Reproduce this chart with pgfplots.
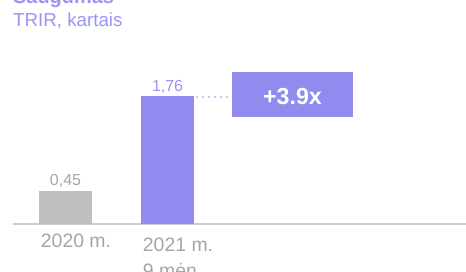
\documentclass[border=0pt]{standalone}
\usepackage{fontspec}
\setmainfont{Liberation Sans}
\usepackage{pgfplots}
\pgfplotsset{compat=1.18}
\definecolor{bpurple}{HTML}{918BF0}
\definecolor{tpurple}{HTML}{9A95F2}
\definecolor{bgray}{HTML}{BEBFC1}
\definecolor{tgray}{HTML}{A5A5A5}
\definecolor{lgray}{HTML}{CCCCCC}
\begin{document}
\begin{tikzpicture}
\useasboundingbox (0bp,0bp) rectangle (466bp,272bp);
\clip (0bp,0bp) rectangle (466bp,272bp);
\node[anchor=base west, inner sep=0pt, font=\fontsize{20}{24}\selectfont\bfseries, text=tpurple] at (13bp,268bp) {Saugumas};
\node[anchor=base west, inner sep=0pt, font=\fontsize{18.8}{22}\selectfont, text=tpurple] at (13bp,245.3bp) {TRIR, kartais};
\begin{axis}[
  at={(13bp,48bp)}, anchor=south west,
  scale only axis, width=453bp, height=217.5bp,
  xmin=-0.5147, xmax=3.926, ymin=0, ymax=3,
  axis x line*=bottom, axis y line=none,
  x axis line style={draw=lgray, line width=1.5bp, -},
  xtick={0,1}, major tick length=0pt,
  xticklabels={{2020 m.}, {\rule{0pt}{17.4bp}2021 m.\\9 mėn.}},
  xticklabel style={anchor=north west, align=left, inner sep=0pt, xshift=-24.8bp, yshift=-10bp, font=\fontsize{19.5}{25.5}\selectfont, text=tgray},
  ytick=\empty,
  ybar, bar width=53bp, bar shift=0pt,
  clip=false,
  /pgf/number format/assume math mode=true,
  /pgf/number format/use comma, /pgf/number format/fixed, /pgf/number format/precision=2, /pgf/number format/fixed zerofill,
]
\addplot[fill=bgray, draw=none, nodes near coords,
  every node near coord/.append style={anchor=base, yshift=5.5bp, font=\fontsize{16}{19}\selectfont, text=tgray}]
  coordinates {(0,0.45)};
\addplot[fill=bpurple, draw=none, nodes near coords,
  every node near coord/.append style={anchor=base, yshift=5bp, font=\fontsize{16}{19}\selectfont, text=tpurple}]
  coordinates {(1,1.76)};
\draw[bpurple, line width=1.6bp, line cap=round, dash pattern=on 0.01bp off 6bp] (axis cs:1.2892,1.748) -- (axis cs:1.6128,1.748);
\fill[bpurple] (axis cs:1.6324,1.4717) rectangle (axis cs:2.8186,2.0924);
\node[anchor=base, inner sep=0pt, text=white, font=\fontsize{23.3}{26}\selectfont\bfseries] at (axis cs:2.2255,1.6414) {+3.9x};
\end{axis}
\end{tikzpicture}
\end{document}
